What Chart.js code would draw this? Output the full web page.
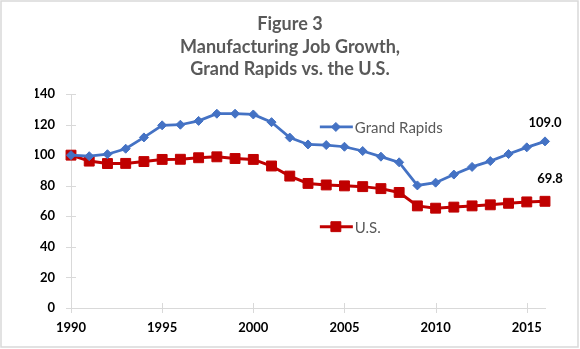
<!DOCTYPE html>
<html>
<head>
<meta charset="utf-8">
<script src="https://cdn.jsdelivr.net/npm/chart.js@4"></script>
<style>
  html, body { margin: 0; padding: 0; background: #fff; }
  canvas { display: block; }
</style>
</head>
<body>
<canvas id="chart" width="580" height="349"></canvas>
<script>
/* Manufacturing employment index (1990 = 100) */
const years = [1990, 1991, 1992, 1993, 1994, 1995, 1996, 1997, 1998, 1999,
               2000, 2001, 2002, 2003, 2004, 2005, 2006, 2007, 2008, 2009,
               2010, 2011, 2012, 2013, 2014, 2015, 2016];
const grandRapids = [100, 99.3, 100.6, 104.2, 111.6, 119.5, 119.9, 122.4, 127.1, 127.1,
                     126.6, 121.6, 111.5, 107.0, 106.6, 105.5, 102.7, 99.0, 95.3, 80.2,
                     82.0, 87.3, 92.3, 96.1, 100.7, 105.1, 109.0];
const unitedStates = [100, 96.1, 94.5, 94.6, 95.8, 97.2, 97.3, 98.3, 98.9, 97.8,
                      97.2, 92.9, 86.3, 81.5, 80.5, 79.9, 79.4, 78.1, 75.6, 66.8,
                      65.3, 66.0, 66.8, 67.5, 68.5, 69.4, 69.8];
const yearTicks = [1990, 1995, 2000, 2005, 2010, 2015];
const valueTicks = [0, 20, 40, 60, 80, 100, 120, 140];
const titleLines = ["Figure 3", "Manufacturing Job Growth,", "Grand Rapids vs. the U.S."];

const BLUE = "#4472C4";
const RED = "#C00000";
const AXIS = "#d9d9d9";
const GREY_TEXT = "#595959";
const FONT = "Lato, 'Open Sans', sans-serif";

const toPoints = vals => years.map((yr, i) => ({ x: yr, y: vals[i] }));

/* ── Outer frame ─────────────────────────────────── */
const frame = {
  id: "frame",
  beforeDraw(chart) {
    const { ctx, width, height } = chart;
    ctx.save();
    ctx.fillStyle = "#fff";
    ctx.fillRect(0, 0, width, height);
    ctx.strokeStyle = AXIS;
    ctx.lineWidth = 1.5;
    ctx.strokeRect(1, 1, width - 3, height - 3);
    ctx.restore();
  }
};

/* ── Tick marks crossing both axes ───────────────── */
const crossTicks = {
  id: "crossTicks",
  beforeDatasetsDraw(chart) {
    const { ctx, chartArea: a, scales: { x, y } } = chart;
    ctx.save();
    ctx.strokeStyle = AXIS;
    ctx.lineWidth = 1;
    ctx.beginPath();
    x.ticks.forEach(t => {
      const px = Math.round(x.getPixelForValue(t.value)) + 0.5;
      ctx.moveTo(px, a.bottom - 5);
      ctx.lineTo(px, a.bottom + 5);
    });
    y.ticks.forEach(t => {
      const py = Math.round(y.getPixelForValue(t.value)) + 0.5;
      ctx.moveTo(a.left - 5, py);
      ctx.lineTo(a.left + 5, py);
    });
    ctx.stroke();
    ctx.restore();
  }
};

/* ── Legend entries sitting inside the plot ──────── */
const inlineLegend = {
  id: "inlineLegend",
  afterDatasetsDraw(chart, args, opts) {
    const { ctx, chartArea: a } = chart;
    ctx.save();
    chart.data.datasets.forEach((ds, i) => {
      const spot = opts.spots[i];
      const x0 = a.left + spot[0] * (a.right - a.left);
      const yc = a.top + spot[1] * (a.bottom - a.top);
      ctx.strokeStyle = ds.borderColor;
      ctx.lineWidth = ds.borderWidth;
      ctx.beginPath();
      ctx.moveTo(x0, yc);
      ctx.lineTo(x0 + 33, yc);
      ctx.stroke();
      ctx.fillStyle = ds.pointBackgroundColor;
      ctx.strokeStyle = ds.pointBorderColor;
      ctx.lineWidth = ds.pointBorderWidth;
      Chart.helpers.drawPoint(ctx, { pointStyle: ds.pointStyle, radius: ds.pointRadius, borderWidth: ds.pointBorderWidth }, x0 + 16, yc);
      ctx.fillStyle = GREY_TEXT;
      ctx.font = "15px " + FONT;
      ctx.textBaseline = "middle";
      ctx.textAlign = "left";
      ctx.fillText(ds.label, x0 + 35, yc + 1);
    });
    ctx.restore();
  }
};

/* ── Value label over the final year ─────────────── */
const endLabels = {
  id: "endLabels",
  afterDatasetsDraw(chart, args, opts) {
    const { ctx } = chart;
    ctx.save();
    ctx.fillStyle = "#000";
    ctx.font = "bold 13px " + FONT;
    ctx.textAlign = "center";
    ctx.textBaseline = "middle";
    chart.data.datasets.forEach((ds, i) => {
      const meta = chart.getDatasetMeta(i);
      const el = meta.data[meta.data.length - 1];
      const v = ds.data[ds.data.length - 1].y;
      const off = opts.offsets[i];
      ctx.fillText(v.toFixed(1), el.x + off[0], el.y + off[1]);
    });
    ctx.restore();
  }
};

new Chart(document.getElementById("chart"), {
  type: "line",
  data: {
    datasets: [
      {
        label: "Grand Rapids",
        data: toPoints(grandRapids),
        borderColor: BLUE,
        borderWidth: 2.75,
        pointStyle: "rectRot",
        pointRadius: 4.5,
        pointBackgroundColor: BLUE,
        pointBorderColor: BLUE,
        pointBorderWidth: 1,
        tension: 0,
        clip: false
      },
      {
        label: "U.S.",
        data: toPoints(unitedStates),
        borderColor: RED,
        borderWidth: 3,
        pointStyle: "rect",
        pointRadius: 7,
        pointBackgroundColor: RED,
        pointBorderColor: RED,
        pointBorderWidth: 1,
        tension: 0,
        clip: false
      }
    ]
  },
  options: {
    responsive: false,
    animation: false,
    // symmetric side padding keeps the title centred on the canvas
    layout: { padding: { left: 35, right: 35, top: 0, bottom: 5 } },
    plugins: {
      legend: { display: false },
      tooltip: { enabled: false },
      title: {
        display: true,
        text: titleLines,
        color: GREY_TEXT,
        font: { family: FONT, size: 18, weight: "bold", lineHeight: 1.25 },
        padding: { top: 13, bottom: 13.5 }
      },
      inlineLegend: { spots: [[0.525, 0.154], [0.525, 0.62]] },
      endLabels: { offsets: [[0, -19], [5, -22]] }
    },
    scales: {
      x: {
        type: "linear",
        min: 1990,
        max: 2016,
        afterBuildTicks: s => { s.ticks = yearTicks.map(v => ({ value: v })); },
        afterFit: s => { s.height = 36; },
        grid: { display: false, drawTicks: false },
        border: { display: true, color: AXIS, width: 1 },
        ticks: {
          padding: 12,
          color: "#000",
          font: { family: FONT, size: 13, weight: "bold" },
          maxRotation: 0,
          callback: v => String(v)
        }
      },
      y: {
        min: 0,
        max: 140,
        afterBuildTicks: s => { s.ticks = valueTicks.map(v => ({ value: v })); },
        afterFit: s => { s.width = 36; },
        grid: { display: false, drawTicks: false },
        border: { display: true, color: AXIS, width: 1 },
        ticks: {
          padding: 16,
          color: "#000",
          font: { family: FONT, size: 13, weight: "bold" }
        }
      }
    }
  },
  plugins: [frame, crossTicks, inlineLegend, endLabels]
});
</script>
</body>
</html>
